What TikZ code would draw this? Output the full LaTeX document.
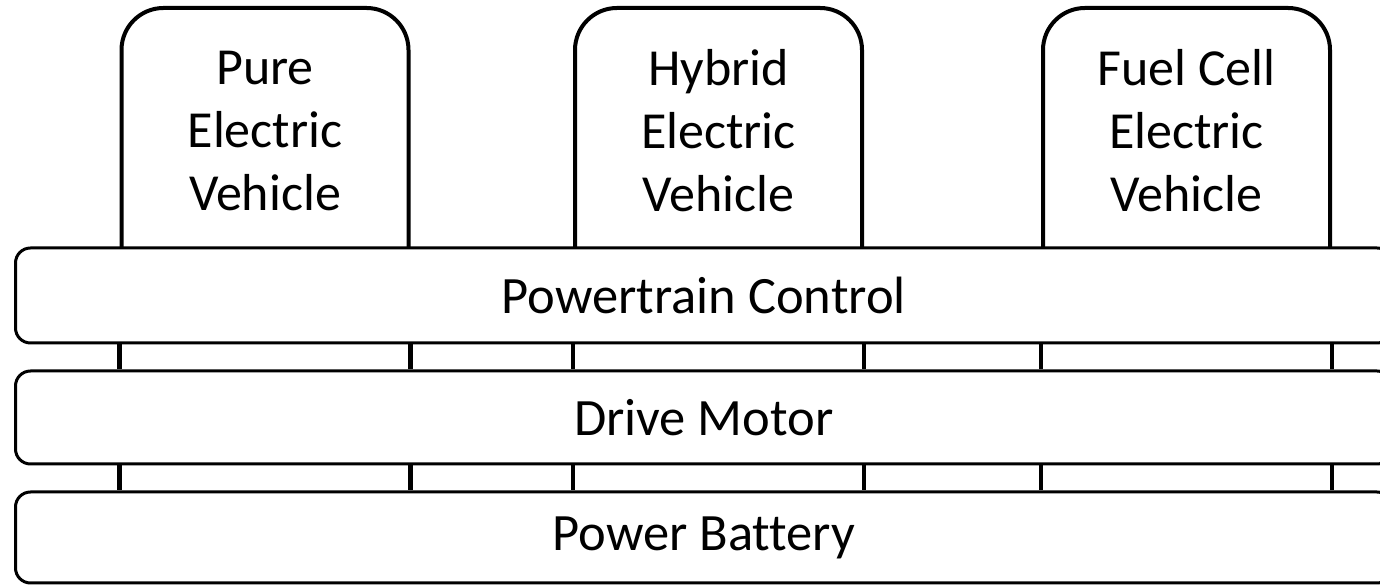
\documentclass[tikz,border=0pt]{standalone}
\usepackage{fontspec}
\setmainfont{Carlito}[Ligatures=NoCommon]
\begin{document}
\begin{tikzpicture}[x=1pt,y=1pt,
  vbox/.style={draw=black,line width=4pt,fill=white,rounded corners=42pt,
    minimum width=287pt,minimum height=287pt,inner sep=0pt},
  vtext/.style={align=center,font=\fontsize{52}{63}\selectfont,inner sep=0pt},
  bar/.style={draw=black,line width=3pt,fill=white,rounded corners=15pt,
    minimum width=1376.5pt,inner sep=0pt,font=\fontsize{52.5}{63}\selectfont},
  conn/.style={draw=black,line width=4.5pt}]
\useasboundingbox (0,0) rectangle (1380,585);
% vehicle boxes
\node[vbox] (pev) at (265,433.5) {};
\node[vbox] (hev) at (718.5,433.5) {};
\node[vbox] (fcev) at (1186.5,433.5) {};
\node[vtext] (pevt) at (265,454) {Pure\\Electric\\Vehicle};
\node[vtext] (hevt) at (718.5,454) {Hybrid\\Electric\\Vehicle};
\node[vtext] (fcevt) at (1186.5,454) {Fuel Cell\\Electric\\Vehicle};
% bars
\node[bar,minimum height=95pt] (pt) at (703.75,289.5) {Powertrain Control};
\node[bar,minimum height=93pt] (dm) at (703.75,167.5) {Drive Motor};
\node[bar,minimum height=91pt] (pb) at (703.75,47.5) {Power Battery};
% connectors
\foreach \n in {pev,hev,fcev}{
  \draw[conn] (\n.west |- pt.south) -- (\n.west |- dm.north);
  \draw[conn] (\n.east |- pt.south) -- (\n.east |- dm.north);
  \draw[conn] (\n.west |- dm.south) -- (\n.west |- pb.north);
  \draw[conn] (\n.east |- dm.south) -- (\n.east |- pb.north);
}
\end{tikzpicture}
\end{document}
